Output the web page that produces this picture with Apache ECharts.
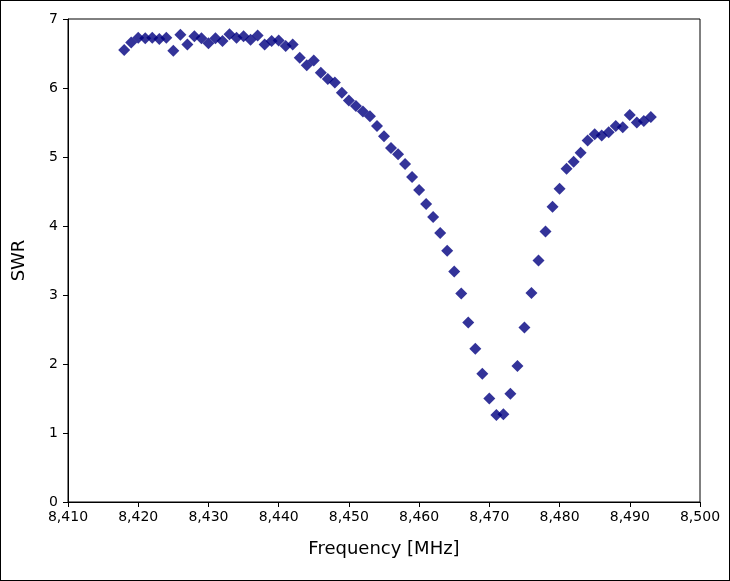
<!DOCTYPE html>
<html>
<head>
<meta charset="utf-8">
<script src="https://cdn.jsdelivr.net/npm/echarts@6/dist/echarts.min.js"></script>
<style>
html,body{margin:0;padding:0;background:#fff;}
#main{width:730px;height:581px;box-sizing:border-box;border:1px solid #000;}
</style>
</head>
<body>
<div id="main"></div>
<script>
var freqStart = 8418;
var swr = [6.55,6.66,6.73,6.72,6.73,6.71,6.73,6.54,6.77,6.63,6.75,6.72,6.65,6.72,6.68,6.78,6.73,6.75,6.70,6.76,
    6.63,6.68,6.69,6.61,6.63,6.44,6.33,6.40,6.22,6.13,6.08,5.93,5.82,5.74,5.66,5.59,5.45,5.30,5.13,5.04,
    4.90,4.71,4.52,4.32,4.13,3.90,3.64,3.34,3.02,2.60,2.22,1.86,1.50,1.26,1.27,1.57,1.97,2.53,3.03,3.50,
    3.92,4.28,4.54,4.83,4.93,5.06,5.24,5.33,5.31,5.36,5.45,5.43,5.61,5.50,5.52,5.58];
var data = [];
for (var i = 0; i < swr.length; i++) {
    data.push([freqStart + i, swr[i]]);
}
var myChart = echarts.init(document.getElementById("main"));
myChart.setOption({
    animation: false,
    textStyle: {fontFamily: "DejaVu Sans"},
    grid: {left: 67, right: 29, top: 18, bottom: 78, show: true, borderColor: "#000", borderWidth: 1},
    xAxis: {
        type: "value", min: 8410, max: 8500, interval: 10,
        name: "Frequency [MHz]", nameLocation: "middle", nameGap: 38,
        nameTextStyle: {fontSize: 18, color: "#000"},
        axisLine: {lineStyle: {color: "#000"}},
        axisTick: {lineStyle: {color: "#000"}, length: 5},
        axisLabel: {color: "#000", fontSize: 14, margin: 8},
        splitLine: {show: false}
    },
    yAxis: {
        type: "value", min: 0, max: 7, interval: 1,
        name: "SWR", nameLocation: "middle", nameGap: 40,
        nameTextStyle: {fontSize: 18, color: "#000"},
        axisLine: {show: true, lineStyle: {color: "#000"}},
        axisTick: {show: true, lineStyle: {color: "#000"}, length: 5},
        axisLabel: {color: "#000", fontSize: 14, margin: 10},
        splitLine: {show: false}
    },
    series: [{
        type: "scatter",
        symbol: "diamond",
        symbolSize: 12,
        itemStyle: {color: "#000080"},
        data: data
    }]
});
</script>
</body>
</html>
